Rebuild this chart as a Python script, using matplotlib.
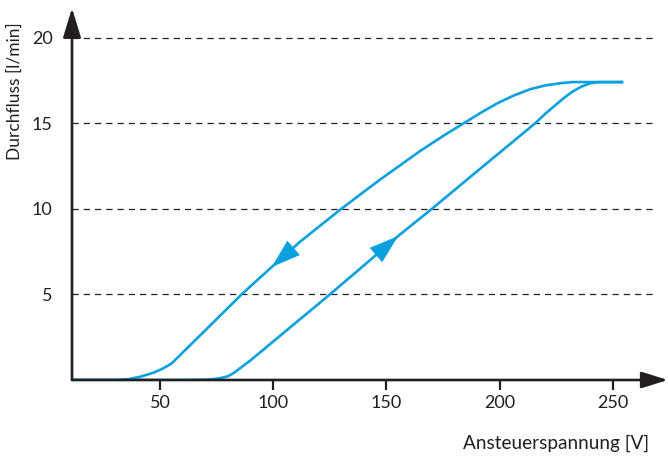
import numpy as np
import matplotlib
matplotlib.use("Agg")
import matplotlib.pyplot as plt
from matplotlib.patches import FancyArrowPatch, ArrowStyle

# Rising branch (lower curve)
rise_v = [11, 60, 70, 74, 77, 80, 82.5, 85, 90, 100, 125, 138.3, 155.2, 170, 190, 215.6,
          220, 224, 228, 232, 236, 240, 244, 254]
rise_f = [0, 0, 0.02, 0.06, 0.12, 0.22, 0.4, 0.65, 1.15, 2.25, 5.0, 6.5, 8.42, 10.0, 12.2, 15.0,
          15.55, 16.0, 16.45, 16.85, 17.15, 17.35, 17.42, 17.42]

# Falling branch (upper curve)
fall_v = [11, 30, 36, 41, 47, 51, 55, 60, 70, 78, 86, 99.3, 112, 130, 147, 165, 176, 184,
          192, 199, 206, 213.4, 220, 226.6, 232, 240, 254]
fall_f = [0, 0, 0.05, 0.18, 0.42, 0.65, 0.95, 1.6, 2.9, 3.95, 5.0, 6.6, 8.1, 10.0, 11.7, 13.4, 14.35, 15.0,
          15.65, 16.18, 16.62, 17.0, 17.22, 17.35, 17.42, 17.42, 17.42]

x_ticks = [50, 100, 150, 200, 250]
y_ticks = [5, 10, 15, 20]

plt.rcParams['font.family'] = ['Lato', 'DejaVu Sans']
BLUE = '#0ba1df'
DARK = '#231f20'

fig = plt.figure(figsize=(6.68, 4.57), dpi=100)
ax = fig.add_axes([72/668, (457-380)/457, (655-72)/668, 360/457])
ax.set_xlim(11.17, 268.6)
ax.set_ylim(0, 21.05)

for s in ax.spines.values():
    s.set_visible(False)

for yv in y_ticks:
    ax.axhline(yv, color='#222222', lw=0.9, ls=(0, (5, 4)), zorder=1)

ax.plot(fall_v, fall_f, color=BLUE, lw=1.9, zorder=3, solid_joinstyle='round')
ax.plot(rise_v, rise_f, color=BLUE, lw=1.9, zorder=3, solid_joinstyle='round')

# direction arrows
def add_arrow(vs, fs, v_tip, v_tail):
    tip = (v_tip, np.interp(v_tip, vs, fs))
    tail = (v_tail, np.interp(v_tail, vs, fs))
    ap = FancyArrowPatch(posA=tail, posB=tip,
                         arrowstyle=ArrowStyle("-|>", head_length=20, head_width=6.5),
                         mutation_scale=1, color=BLUE, lw=0.5, shrinkA=0, shrinkB=0, zorder=4)
    ax.add_patch(ap)

add_arrow(fall_v, fall_f, 99.3, 115)
add_arrow(rise_v, rise_f, 155.2, 140)

# axes arrows
ax.annotate('', xy=(1.022, 0), xytext=(0, 0), xycoords='axes fraction',
            arrowprops=dict(arrowstyle=ArrowStyle("-|>", head_length=16, head_width=5),
                            mutation_scale=1, color=DARK, lw=1.9, shrinkA=0, shrinkB=0),
            annotation_clip=False, zorder=5)
ax.annotate('', xy=(0, 1.033), xytext=(0, 0), xycoords='axes fraction',
            arrowprops=dict(arrowstyle=ArrowStyle("-|>", head_length=18, head_width=5.5),
                            mutation_scale=1, color=DARK, lw=1.9, shrinkA=0, shrinkB=0),
            annotation_clip=False, zorder=5)

ax.set_xticks(x_ticks)
ax.set_xticklabels([str(v) for v in x_ticks])
ax.set_yticks(y_ticks)
ax.set_yticklabels([str(v) for v in y_ticks])
ax.tick_params(axis='x', direction='out', length=7, width=1.6, color=DARK,
               labelsize=13, labelcolor=DARK, pad=4)
ax.tick_params(axis='y', length=0, labelsize=13, labelcolor=DARK, pad=14)

fig.text(15/668, 1 - 91/457, 'Durchfluss [l/min]', rotation=90, ha='center', va='center',
         fontsize=12.5, color=DARK)
fig.text(649/668, 1 - 449/457, 'Ansteuerspannung [V]', ha='right', va='baseline',
         fontsize=13.7, color=DARK)

fig.savefig('out.png', dpi=100)
